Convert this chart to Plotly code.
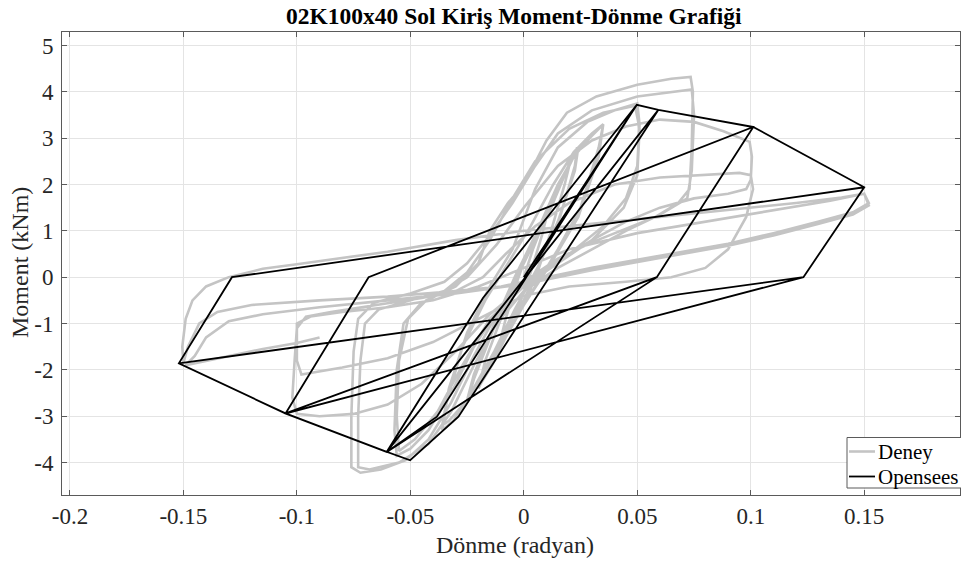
import plotly.graph_objects as go

# Deney (test) hysteresis, one list per amplitude
deney_001 = [(0, 0), (0.004, 0.6), (0.008, 1.1), (0.010, 1.3), (0.008, 0.9), (0.003, 0.1),
             (-0.002, -0.6), (-0.007, -1.1), (-0.010, -1.3), (-0.008, -0.9), (-0.003, -0.1),
             (0.002, 0.6), (0.007, 1.1), (0.010, 1.3)]
deney_002 = [(0.013, 1.7), (0.017, 2.1), (0.020, 2.4), (0.018, 2.0), (0.012, 1.0), (0.006, 0.1),
             (0.0, -0.6), (-0.008, -1.3), (-0.014, -1.9), (-0.019, -2.3), (-0.020, -2.4),
             (-0.017, -1.8), (-0.010, -0.9), (-0.004, -0.1), (0.004, 0.7), (0.012, 1.5),
             (0.018, 2.2), (0.020, 2.45)]
deney_0025 = [(0.022, 2.6), (0.0235, 2.8), (0.0225, 2.4), (0.016, 1.3), (0.008, 0.4), (0.0, -0.5),
              (-0.010, -1.4), (-0.018, -2.1), (-0.024, -2.6), (-0.025, -2.7), (-0.022, -2.2),
              (-0.014, -1.2), (-0.006, -0.3), (0.004, 0.7), (0.013, 1.7), (0.020, 2.4),
              (0.024, 2.8), (0.0225, 2.3), (0.015, 1.2), (0.006, 0.2), (-0.004, -0.7),
              (-0.013, -1.6), (-0.021, -2.3), (-0.025, -2.65), (-0.022, -2.1), (-0.013, -1.0),
              (-0.004, 0.0), (0.006, 1.0), (0.015, 2.0)]
deney_0035 = [(0.022, 2.6), (0.029, 3.0), (0.035, 3.3), (0.033, 2.8), (0.025, 1.5), (0.015, 0.6),
              (0.005, -0.2), (-0.005, -1.0), (-0.015, -1.9), (-0.024, -2.6), (-0.031, -3.1),
              (-0.036, -3.3), (-0.034, -2.7), (-0.027, -1.5), (-0.017, -0.5), (-0.007, 0.3),
              (0.003, 1.1), (0.013, 2.0), (0.022, 2.7), (0.030, 3.1), (0.035, 3.3), (0.033, 2.6),
              (0.024, 1.3), (0.012, 0.3), (0.0, -0.6), (-0.012, -1.6), (-0.024, -2.6),
              (-0.033, -3.1), (-0.036, -3.2), (-0.033, -2.4), (-0.025, -1.2), (-0.015, -0.2),
              (-0.005, 0.6)]
deney_005 = [(0.005, 1.9), (0.015, 2.8), (0.028, 3.35), (0.040, 3.6), (0.050, 3.75), (0.051, 3.3),
             (0.050, 2.4), (0.045, 1.7), (0.035, 1.1), (0.020, 0.5), (0.005, 0.0), (-0.010, -0.6),
             (-0.022, -1.5), (-0.032, -2.5), (-0.042, -3.3), (-0.050, -3.7), (-0.056, -3.85),
             (-0.057, -3.3), (-0.056, -2.0), (-0.053, -1.0), (-0.046, -0.6), (-0.035, -0.3),
             (-0.025, 0.1), (-0.015, 0.8), (-0.005, 1.7), (0.005, 2.5), (0.020, 3.2),
             (0.035, 3.55), (0.049, 3.7), (0.051, 3.2), (0.050, 2.2), (0.044, 1.5), (0.030, 0.8),
             (0.015, 0.3), (0.0, -0.2), (-0.015, -0.9), (-0.027, -1.9), (-0.038, -2.9),
             (-0.048, -3.5), (-0.055, -3.75), (-0.056, -3.0), (-0.055, -1.8), (-0.051, -0.9),
             (-0.043, -0.5), (-0.030, -0.2)]
deney_0075 = [(-0.020, 0.3), (-0.015, 1.0), (-0.007, 1.6), (0.0, 2.0), (0.010, 2.95), (0.019, 3.55),
              (0.032, 3.9), (0.050, 4.15), (0.065, 4.28), (0.0735, 4.32), (0.0745, 4.0),
              (0.074, 2.8), (0.073, 1.9), (0.068, 1.6), (0.058, 1.3), (0.045, 1.05), (0.030, 0.75),
              (0.015, 0.4), (0.0, -0.1), (-0.012, -0.8), (-0.022, -1.7), (-0.032, -2.7),
              (-0.042, -3.5), (-0.052, -3.95), (-0.063, -4.15), (-0.072, -4.22), (-0.076, -4.1),
              (-0.076, -3.0), (-0.075, -1.6), (-0.073, -0.9), (-0.066, -0.55), (-0.050, -0.35),
              (-0.035, -0.1), (-0.025, 0.3), (-0.015, 0.9), (-0.005, 1.6), (0.005, 2.4),
              (0.015, 3.1), (0.030, 3.6), (0.050, 3.9), (0.074, 4.05), (0.075, 3.5), (0.074, 2.3),
              (0.072, 1.7), (0.060, 1.35), (0.045, 1.0), (0.030, 0.6), (0.015, 0.2), (0.0, -0.3),
              (-0.012, -1.0), (-0.022, -1.9), (-0.032, -2.9), (-0.042, -3.6), (-0.055, -4.0),
              (-0.068, -4.15), (-0.073, -4.1), (-0.073, -3.0), (-0.072, -1.8), (-0.070, -1.0),
              (-0.064, -0.7), (-0.050, -0.5), (-0.035, -0.3)]
deney_010 = [(-0.025, 0.0), (-0.012, 0.7), (0.0, 1.5), (0.015, 2.4), (0.030, 2.95), (0.045, 3.25),
             (0.060, 3.4), (0.075, 3.35), (0.088, 3.15), (0.0995, 2.92), (0.1005, 2.6),
             (0.100, 2.1), (0.098, 1.9), (0.090, 1.8), (0.075, 1.7), (0.060, 1.5), (0.045, 1.2),
             (0.030, 0.8), (0.015, 0.35), (0.0, -0.2), (-0.015, -0.8), (-0.030, -1.6),
             (-0.045, -2.3), (-0.060, -2.75), (-0.075, -2.95), (-0.090, -3.0), (-0.100, -2.95),
             (-0.102, -2.6), (-0.101, -1.8), (-0.100, -1.1), (-0.096, -0.85), (-0.085, -0.75),
             (-0.065, -0.6), (-0.045, -0.45), (-0.030, -0.3), (-0.018, 0.0), (-0.008, 0.5),
             (0.005, 1.1), (0.020, 1.6), (0.040, 2.0), (0.060, 2.15), (0.080, 2.2), (0.095, 2.25),
             (0.100, 2.2), (0.101, 1.9), (0.098, 1.3), (0.090, 0.6), (0.080, 0.2), (0.065, 0.0),
             (0.045, -0.1), (0.020, -0.2), (0.0, -0.4), (-0.020, -0.9), (-0.040, -1.4),
             (-0.060, -1.75), (-0.080, -1.95), (-0.098, -2.1), (-0.100, -1.8), (-0.100, -1.0),
             (-0.094, -0.85), (-0.080, -0.75), (-0.060, -0.65), (-0.040, -0.5)]
deney_015 = [(-0.020, -0.2), (0.0, 0.2), (0.020, 0.6), (0.050, 0.95), (0.080, 1.2), (0.110, 1.45),
             (0.135, 1.65), (0.150, 1.8), (0.152, 1.6), (0.145, 1.4), (0.130, 1.2), (0.110, 0.95),
             (0.090, 0.72), (0.070, 0.55), (0.050, 0.37), (0.030, 0.2), (0.010, 0.0),
             (-0.010, -0.2), (-0.030, -0.3), (-0.060, -0.42), (-0.090, -0.5), (-0.120, -0.6),
             (-0.135, -0.75), (-0.143, -1.0), (-0.148, -1.5), (-0.150, -1.85), (-0.1505, -1.5),
             (-0.149, -0.9), (-0.146, -0.5), (-0.140, -0.2), (-0.130, 0.0), (-0.115, 0.18),
             (-0.100, 0.28), (-0.085, 0.38), (-0.060, 0.55), (-0.030, 0.8), (0.0, 1.0),
             (0.030, 1.15), (0.060, 1.3), (0.090, 1.45), (0.120, 1.6), (0.140, 1.72),
             (0.150, 1.8), (0.152, 1.55), (0.145, 1.35), (0.130, 1.15), (0.110, 0.9),
             (0.090, 0.68), (0.070, 0.5), (0.050, 0.33), (0.030, 0.15), (0.0, -0.15),
             (-0.030, -0.35), (-0.060, -0.5), (-0.090, -0.65), (-0.115, -0.8), (-0.130, -0.95),
             (-0.140, -1.3), (-0.145, -1.7), (-0.149, -1.9), (-0.135, -1.75), (-0.115, -1.55),
             (-0.100, -1.42), (-0.090, -1.3)]

# Opensees model response: corner points of the path, in order
opensees_x = [0.0, 0.0498, -0.018, -0.0604, -0.0501, -0.0288, 0.0593, -0.0604, -0.0383, 0.0498,
              0.0593, 0.1011, 0.0586, -0.0604, -0.105, -0.0684, 0.1011, 0.0586, -0.105, -0.0684,
              0.1011, 0.150, 0.1232, -0.105, -0.152, -0.1286, 0.150, 0.1232, -0.152, -0.1286, 0.150]
opensees_y = [0.0, 3.72, -0.45, -3.77, -3.95, -3.01, 3.61, -3.77, -3.01, 3.72,
              3.61, 3.24, 0.0, -3.77, -2.94, 0.0, 3.24, 0.0, -2.94, 0.0,
              3.24, 1.94, 0.0, -2.94, -1.86, 0.0, 1.94, 0.0, -1.86, 0.0, 1.94]

x_ticks = [-0.2, -0.15, -0.1, -0.05, 0, 0.05, 0.1, 0.15]
x_labels = ["-0.2", "-0.15", "-0.1", "-0.05", "0", "0.05", "0.1", "0.15"]
y_ticks = [-4, -3, -2, -1, 0, 1, 2, 3, 4, 5]
y_labels = ["-4", "-3", "-2", "-1", "0", "1", "2", "3", "4", "5"]

deney = (deney_001 + deney_002 + deney_0025 + deney_0035 + deney_005
         + deney_0075 + deney_010 + deney_015)
deney_x = [p[0] for p in deney]
deney_y = [p[1] for p in deney]

font = "Liberation Serif, Times New Roman, serif"
gray = "#c4c4c4"
frame = "#5a5a5a"

fig = go.Figure()
fig.add_trace(go.Scatter(x=deney_x, y=deney_y, mode="lines", name="Deney",
                         line=dict(color=gray, width=2.6)))
fig.add_trace(go.Scatter(x=opensees_x, y=opensees_y, mode="lines", name="Opensees",
                         line=dict(color="#000000", width=1.8)))

axis_style = dict(showgrid=True, gridcolor="#e4e4e4", gridwidth=1, zeroline=False,
                  showline=True, linecolor=frame, linewidth=1, mirror="ticks",
                  ticks="inside", ticklen=5, tickcolor=frame, automargin=False,
                  tickfont=dict(family=font, size=23, color="#262626"))

# full window figure; the body margin is removed in the page (post_script below)
fig.update_layout(
    width=961, height=565,
    margin=dict(l=62, r=1, t=32, b=70),
    paper_bgcolor="white", plot_bgcolor="white",
    showlegend=False,
    xaxis=dict(range=[-0.2035, 0.1922], tickvals=x_ticks, ticktext=x_labels,
               ticklabelstandoff=0, **axis_style),
    yaxis=dict(range=[-4.70, 5.29], tickvals=y_ticks, ticktext=y_labels,
               ticklabelstandoff=3, **axis_style),
)


# page pixel -> paper coordinates (plot area spans 62..960 x 32..495)
def px(x):
    return (x - 62) / 898


def py(y):
    return (495 - y) / 463


fig.add_annotation(text="<b>02K100x40 Sol Kiriş Moment-Dönme Grafiği</b>",
                   xref="paper", yref="paper", x=px(514), y=py(16),
                   xanchor="center", yanchor="middle", showarrow=False,
                   font=dict(family=font, size=23.5, color="#000000"))
fig.add_annotation(text="Dönme (radyan)", xref="paper", yref="paper",
                   x=px(515), y=py(545),
                   xanchor="center", yanchor="middle", showarrow=False,
                   font=dict(family=font, size=24, color="#262626"))
fig.add_annotation(text="Moment (kNm)", xref="paper", yref="paper", textangle=-90,
                   x=px(20), y=py(263),
                   xanchor="center", yanchor="middle", showarrow=False,
                   font=dict(family=font, size=24, color="#262626"))

# legend box, drawn to match the original placement
fig.add_shape(type="rect", xref="paper", yref="paper", x0=px(847), x1=px(963),
              y0=py(488), y1=py(437.5), line=dict(color=frame, width=1), fillcolor="white",
              layer="above")
for name, col, lw, yy in [("Deney", gray, 2.6, 451.5), ("Opensees", "#000000", 1.8, 476.5)]:
    fig.add_shape(type="line", xref="paper", yref="paper", x0=px(849), x1=px(875),
                  y0=py(yy), y1=py(yy), line=dict(color=col, width=lw), layer="above")
    fig.add_annotation(text=name, xref="paper", yref="paper", x=px(876), y=py(yy),
                       xanchor="left", yanchor="middle", showarrow=False,
                       font=dict(family=font, size=21, color="#000000"))

fig.write_html("out.html", config={"displayModeBar": False},
               post_script="document.body.style.margin='0px';document.body.style.overflow='hidden';")
